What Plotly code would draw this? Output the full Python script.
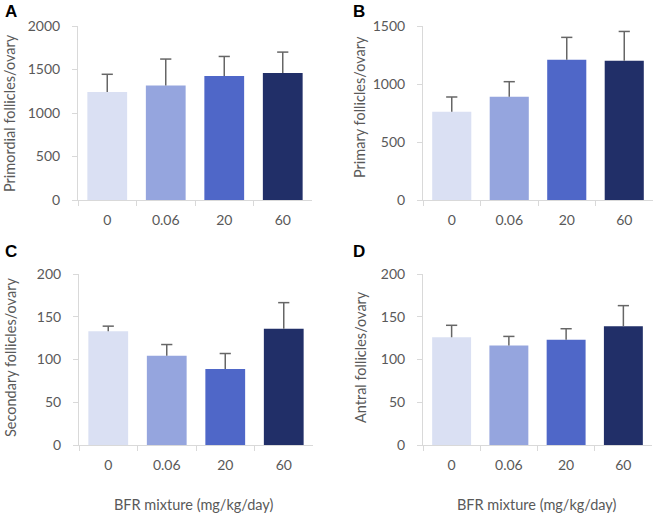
import plotly.graph_objects as go

categories = ["0", "0.06", "20", "60"]
bar_colors = ["#dae0f3", "#95a5de", "#4f67c8", "#212f68"]

primordial = [1240, 1315, 1425, 1460]
primordial_err = [205, 305, 225, 240]
primary = [760, 890, 1210, 1200]
primary_err = [128, 130, 192, 253]
secondary = [133, 104.5, 89, 136]
secondary_err = [6, 13, 18, 30.5]
antral = [126, 116.5, 123, 139]
antral_err = [14, 10.5, 13, 24]

panels = [
    ("A", "Primordial follicles/ovary", primordial, primordial_err, [0, 2000], 500),
    ("B", "Primary follicles/ovary", primary, primary_err, [0, 1500], 500),
    ("C", "Secondary follicles/ovary", secondary, secondary_err, [0, 200], 50),
    ("D", "Antral follicles/ovary", antral, antral_err, [0, 200], 50),
]

W, H = 655, 515
# plot area pixel boxes (x0, x1, ytop, ybottom)
boxes = [(78, 312, 26, 200), (423, 653, 26, 200), (79, 313, 274, 445), (423, 652, 274, 445)]
letter_pos = [(11, 12), (359, 12), (11, 252), (359, 252)]
ytitle_pos = [(10, 113), (360, 107), (10, 358), (360, 357)]

fig = go.Figure()
gray = "#595959"
errcol = "#666666"
axcol = "#d9d9d9"
font_family = "Lato, Open Sans, sans-serif"

for i, (letter, ytitle, vals, errs, yr, dt) in enumerate(panels):
    n = "" if i == 0 else str(i + 1)
    fig.add_trace(go.Bar(
        x=categories, y=vals,
        marker=dict(color=bar_colors, line=dict(width=0)),
        width=0.68,
        error_y=dict(type="data", array=errs, arrayminus=[0] * len(errs), symmetric=False,
                     color=errcol, thickness=1.5, width=0),
        xaxis="x" + n, yaxis="y" + n, showlegend=False, hoverinfo="skip",
    ))
    # caps at the top of each error bar
    fig.add_trace(go.Scatter(
        x=categories, y=[v + e for v, e in zip(vals, errs)], mode="markers",
        marker=dict(symbol="line-ew", size=8, line=dict(color=errcol, width=1.5)),
        xaxis="x" + n, yaxis="y" + n, showlegend=False, hoverinfo="skip",
    ))
    x0, x1, yt, yb = boxes[i]
    fig.layout["xaxis" + n] = dict(
        domain=[x0 / W, x1 / W], anchor="y" + n,
        showline=True, linecolor=axcol, linewidth=1,
        ticks="outside", tickson="boundaries", ticklen=5, tickcolor=axcol, ticklabelstandoff=7,
        tickfont=dict(family=font_family, size=14, color=gray),
        showgrid=False, zeroline=False, fixedrange=True, automargin=False,
    )
    fig.layout["yaxis" + n] = dict(
        domain=[1 - yb / H, 1 - yt / H], anchor="x" + n,
        range=yr, dtick=dt,
        showline=True, linecolor=axcol, linewidth=1,
        ticks="outside", ticklen=5, tickcolor=axcol, ticklabelstandoff=9,
        tickfont=dict(family=font_family, size=14, color=gray),
        showgrid=False, zeroline=False, fixedrange=True, automargin=False,
    )
    lx, ly = letter_pos[i]
    fig.add_annotation(text="<b>" + letter + "</b>", x=lx / W, y=1 - ly / H, xref="paper", yref="paper",
                       showarrow=False, font=dict(family="Arial, Liberation Sans", size=17, color="black"),
                       xanchor="center", yanchor="middle")
    tx, ty = ytitle_pos[i]
    fig.add_annotation(text=ytitle, x=tx / W, y=1 - ty / H, xref="paper", yref="paper",
                       showarrow=False, textangle=-90,
                       font=dict(family=font_family, size=14.5, color=gray),
                       xanchor="center", yanchor="middle")

for cx in (194, 537):
    fig.add_annotation(text="BFR mixture (mg/kg/day)", x=cx / W, y=1 - 504 / H, xref="paper", yref="paper",
                       showarrow=False, font=dict(family=font_family, size=14.5, color=gray),
                       xanchor="center", yanchor="middle")

fig.update_layout(
    width=W, height=H, margin=dict(l=0, r=0, t=0, b=0, autoexpand=False),
    paper_bgcolor="white", plot_bgcolor="white",
)

fig.write_html("out.html", config={"displayModeBar": False},
               post_script="document.body.style.margin='0';document.body.style.overflow='hidden';")
